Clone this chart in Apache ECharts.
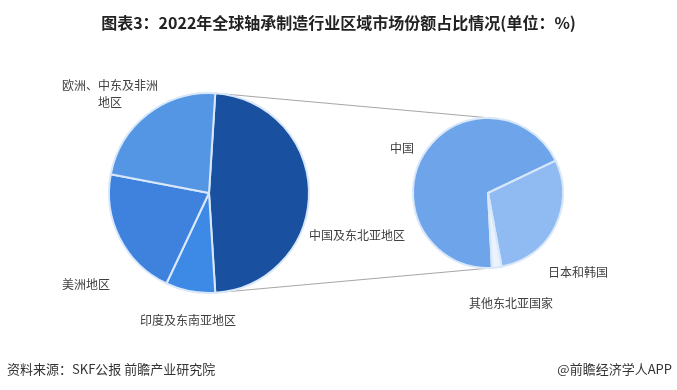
<!DOCTYPE html>
<html>
<head>
<meta charset="utf-8">
<script src="https://cdn.jsdelivr.net/npm/echarts@6/dist/echarts.min.js"></script>
<style>
  html, body { margin: 0; padding: 0; background: #fff; }
  #main { width: 677px; height: 390px; }
</style>
</head>
<body>
<div id="main"></div>
<script>
// main pie: regions (share of global market, %)
const regionNames = ['中国及东北亚地区', '印度及东南亚地区', '美洲地区', '欧洲、中东及非洲\n地区'];
const regionValues = [48, 8, 21, 23];
// second pie: breakdown of 中国及东北亚地区 (%)
const subNames = ['中国', '日本和韩国', '其他东北亚国家'];
const subValues = [33, 14, 1];

const regionColors = ['#1a50a0', '#3d89e6', '#3f82de', '#5596e4'];
const subColors = ['#6ea4ea', '#8fbbf2', '#eaf2fc'];

// geometry
const L = { cx: 209, cy: 193, r: 100 };
const R = { cx: 488, cy: 193, r: 75 };
// label offsets from pie centre
const leftLabelPos = [[148, 42], [-21, 127], [-123, 91], [-99, -99]];
const rightLabelPos = [[-86, -45], [90, 79], [23, 110]];

const total = regionValues.reduce((a, b) => a + b, 0);
const firstAngle = regionValues[0] / total * 360;
// rotate main pie so the broken-out slice is centred at 3 o'clock
const leftStart = firstAngle / 2;
const rightStart = -87;

const chart = echarts.init(document.getElementById('main'), null, { renderer: 'canvas' });

function pt(p, degFromEast) {
  const a = degFromEast * Math.PI / 180;
  return [p.cx + p.r * Math.cos(a), p.cy - p.r * Math.sin(a)];
}
const lTop = pt(L, leftStart);
const lBot = pt(L, leftStart - firstAngle);
const rTop = pt(R, 87);
const rBot = pt(R, -87);

const labelStyle = {
  color: '#404040',
  fontSize: 12,
  fontFamily: 'Noto Sans CJK SC',
  lineHeight: 17,
  align: 'center',
  overflow: 'none',
  width: 140
};

const option = {
  backgroundColor: '#fff',
  animation: false,
  title: {
    text: '图表3：2022年全球轴承制造行业区域市场份额占比情况(单位：%)',
    left: 'center',
    top: 10,
    textStyle: { fontSize: 16, fontWeight: 'bold', color: '#222', fontFamily: 'Noto Sans CJK SC' }
  },
  graphic: [
    { type: 'line', shape: { x1: lTop[0], y1: lTop[1], x2: rTop[0], y2: rTop[1] },
      style: { stroke: '#a6a6a6', lineWidth: 1 }, z: 0 },
    { type: 'line', shape: { x1: lBot[0], y1: lBot[1], x2: rBot[0], y2: rBot[1] },
      style: { stroke: '#a6a6a6', lineWidth: 1 }, z: 0 },
    { type: 'text', left: 7, top: 363,
      style: { text: '资料来源：SKF公报 前瞻产业研究院', fill: '#333', font: '13px "Noto Sans CJK SC"' } },
    { type: 'text', right: 5, top: 363,
      style: { text: '@前瞻经济学人APP', fill: '#333', font: '13px "Noto Sans CJK SC"' } }
  ],
  series: [
    {
      type: 'pie',
      center: [L.cx, L.cy],
      radius: L.r,
      startAngle: leftStart,
      clockwise: true,
      z: 2,
      itemStyle: { borderColor: '#d8e8fa', borderWidth: 2 },
      label: Object.assign({ show: true, position: 'outside', formatter: '{b}' }, labelStyle),
      labelLine: { show: false },
      labelLayout: function (p) {
        const o = leftLabelPos[p.dataIndex];
        return { x: L.cx + o[0], y: L.cy + o[1], align: 'center', verticalAlign: 'middle' };
      },
      data: regionNames.map((n, i) => ({ name: n, value: regionValues[i], itemStyle: { color: regionColors[i] } }))
    },
    {
      type: 'pie',
      center: [R.cx, R.cy],
      radius: R.r,
      startAngle: rightStart,
      clockwise: true,
      z: 2,
      itemStyle: { borderColor: '#d8e8fa', borderWidth: 2 },
      label: Object.assign({ show: true, position: 'outside', formatter: '{b}' }, labelStyle),
      labelLine: { show: false },
      labelLayout: function (p) {
        const o = rightLabelPos[p.dataIndex];
        return { x: R.cx + o[0], y: R.cy + o[1], align: 'center', verticalAlign: 'middle' };
      },
      data: subNames.map((n, i) => ({ name: n, value: subValues[i], itemStyle: { color: subColors[i] } }))
    }
  ]
};

chart.setOption(option);
</script>
</body>
</html>
